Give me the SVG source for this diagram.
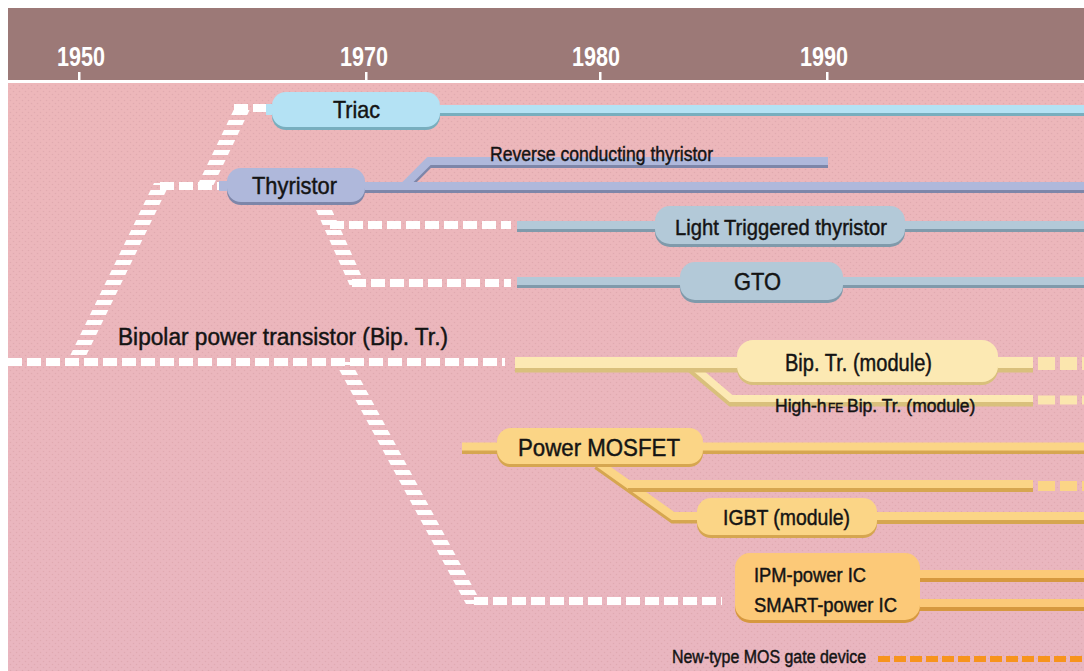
<svg xmlns="http://www.w3.org/2000/svg" width="1084" height="671" viewBox="0 0 1084 671">
<defs>
<pattern id="dots" width="6" height="6" patternUnits="userSpaceOnUse"><circle cx="1.5" cy="1.5" r="0.8" fill="#d79fa6" opacity="0.55"/><circle cx="4.5" cy="4.5" r="0.8" fill="#d79fa6" opacity="0.55"/></pattern>
<pattern id="bars" width="20" height="10" patternUnits="userSpaceOnUse"><rect x="0" y="0" width="20" height="5" fill="#ffffff"/></pattern>
<linearGradient id="bg" x1="0" y1="0" x2="0" y2="1"><stop offset="0" stop-color="#edb7ba"/><stop offset="1" stop-color="#e9b6c0"/></linearGradient>
</defs>
<style>
.lbl{font-family:"Liberation Sans",Arial,Helvetica,sans-serif;fill:#141414;stroke:#141414;stroke-width:0.45px}
.yr{font-family:"Liberation Sans",Arial,sans-serif;font-weight:bold;fill:#ffffff;font-size:28px}
.wd{fill:none;stroke:#ffffff;stroke-width:8;stroke-dasharray:14 5}
.bar{fill:url(#bars)}
.ln{fill:none;stroke-linejoin:miter}
.triL{stroke:#b4e2f4}.triD{stroke:#78aebe}
.thyL{stroke:#afb8db}.thyD{stroke:#7d86a9}
.ltL{stroke:#b3c9d8}.ltD{stroke:#809aab}
.bipL{stroke:#fce9b3}.bipD{stroke:#d9c07c}
.mosL{stroke:#fbd586}.mosD{stroke:#d6a650}
.ipmL{stroke:#fcc978}.ipmD{stroke:#d6983f}
</style>
<rect x="0" y="0" width="1084" height="671" fill="#ffffff"/>
<g id="background">
<rect x="8" y="8" width="1076" height="72" fill="#9c7977"/>
<rect x="8" y="83" width="1076" height="588" fill="url(#bg)"/>
<rect x="8" y="83" width="1076" height="588" fill="url(#dots)"/>
<rect x="8" y="80" width="1076" height="3" fill="#ffffff"/>
</g>
<g id="axis">
<rect x="78" y="72" width="2.5" height="9" fill="#fff"/>
<rect x="365" y="72" width="2.5" height="9" fill="#fff"/>
<rect x="599" y="72" width="2.5" height="9" fill="#fff"/>
<rect x="826" y="72" width="2.5" height="9" fill="#fff"/>
<text class="yr" x="57" y="66" textLength="48" lengthAdjust="spacingAndGlyphs">1950</text>
<text class="yr" x="340" y="66" textLength="48" lengthAdjust="spacingAndGlyphs">1970</text>
<text class="yr" x="572" y="66" textLength="48" lengthAdjust="spacingAndGlyphs">1980</text>
<text class="yr" x="800" y="66" textLength="48" lengthAdjust="spacingAndGlyphs">1990</text>
</g>
<g id="connectors">
<path class="wd" d="M8,362 H505"/>
<path class="wd" d="M160,186 H219" stroke-width="7"/>
<path class="wd" d="M234,108 H267" stroke-width="6"/>
<path class="wd" d="M330,225 H511" stroke-width="7"/>
<path class="wd" d="M352,283 H511" stroke-width="7"/>
<path class="wd" d="M474,601 H722" stroke-width="7"/>
<polygon class="bar" points="154,183 170,183 84,360 68,360"/>
<polygon class="bar" points="236,105 252,105 213,186 197,186"/>
<polygon class="bar" points="316,210 332,210 366,286 350,286"/>
<polygon class="bar" points="335,362 351,362 482,604 466,604"/>
<path class="ln triD" stroke-width="9" d="M436,111.5 H1084"/>
<path class="ln triL" stroke-width="8" d="M436,109 H1084"/>
<path class="ln thyD" stroke-width="9" d="M404,188.5 L429,163.5 H828"/>
<path class="ln thyL" stroke-width="8" d="M404,186 L429,161 H828"/>
<path class="ln thyD" stroke-width="9" d="M360,188.5 H1084"/>
<path class="ln thyL" stroke-width="8" d="M360,186 H1084"/>
<path class="ln ltD" stroke-width="9" d="M517,227.5 H1084"/>
<path class="ln ltL" stroke-width="8" d="M517,225 H1084"/>
<path class="ln ltD" stroke-width="9" d="M517,283.5 H1084"/>
<path class="ln ltL" stroke-width="8" d="M517,281 H1084"/>
<path class="ln bipD" stroke-width="9" d="M688,366 L731,402 H1033"/>
<path class="ln bipL" stroke-width="7" d="M688,362 L731,398.5 H1033"/>
<path class="ln bipD" stroke-width="12" d="M515,366.5 H1033"/>
<path class="ln bipL" stroke-width="11" d="M515,362.5 H1033"/>
<path fill="none" stroke="#fbe6ae" stroke-width="13" stroke-dasharray="17 5" d="M1038,363.5 H1084"/>
<path fill="none" stroke="#fbe6ae" stroke-width="9" stroke-dasharray="17 5" d="M1038,400 H1084"/>
<path class="ln mosD" stroke-width="9" d="M597,465 L673,519 H700"/>
<path class="ln mosL" stroke-width="8" d="M597,462 L673,516 H700"/>
<path class="ln mosD" stroke-width="9" d="M628,487.5 H1033"/>
<path class="ln mosL" stroke-width="8" d="M628,484 H1033"/>
<path fill="none" stroke="#fbd586" stroke-width="10" stroke-dasharray="17 5" d="M1038,486 H1084"/>
<path class="ln mosD" stroke-width="9" d="M462,449.5 H1084"/>
<path class="ln mosL" stroke-width="8" d="M462,446.5 H1084"/>
<path class="ln mosD" stroke-width="9" d="M873,519.5 H1084"/>
<path class="ln mosL" stroke-width="8" d="M873,516 H1084"/>
<path class="ln ipmD" stroke-width="9" d="M915,577.5 H1084"/>
<path class="ln ipmL" stroke-width="8" d="M915,574 H1084"/>
<path class="ln ipmD" stroke-width="9" d="M915,606.5 H1084"/>
<path class="ln ipmL" stroke-width="8" d="M915,603 H1084"/>
<path fill="none" stroke="#f7941d" stroke-width="6" stroke-dasharray="12 4" d="M878,659 H1084"/>
</g>
<g id="triac">
<rect x="266" y="104" width="10" height="11" fill="#b4e2f4"/>
<rect x="272" y="95" width="168" height="35" rx="14" fill="#78aebe"/>
<rect x="272" y="92" width="168" height="35" rx="14" fill="#b4e2f4"/>
<text class="lbl" x="333" y="118" font-size="24" textLength="47" lengthAdjust="spacingAndGlyphs">Triac</text>
</g>
<g id="thyristor">
<rect x="219" y="181" width="12" height="10" fill="#afb8db"/>
<rect x="227" y="171" width="138" height="34" rx="14" fill="#7d86a9"/>
<rect x="227" y="168" width="138" height="34" rx="14" fill="#afb8db"/>
<text class="lbl" x="252" y="194" font-size="24" textLength="85" lengthAdjust="spacingAndGlyphs">Thyristor</text>
</g>
<g id="reverse-conducting">
<text class="lbl" x="490" y="161" font-size="21" textLength="223" lengthAdjust="spacingAndGlyphs">Reverse conducting thyristor</text>
</g>
<g id="light-triggered">
<rect x="655" y="209" width="250" height="38" rx="15" fill="#809aab"/>
<rect x="655" y="206" width="250" height="38" rx="15" fill="#b3c9d8"/>
<text class="lbl" x="675" y="235" font-size="22" textLength="212" lengthAdjust="spacingAndGlyphs">Light Triggered thyristor</text>
</g>
<g id="gto">
<rect x="680" y="265" width="163" height="38" rx="15" fill="#809aab"/>
<rect x="680" y="262" width="163" height="38" rx="15" fill="#b3c9d8"/>
<text class="lbl" x="734" y="290" font-size="24" textLength="47" lengthAdjust="spacingAndGlyphs">GTO</text>
</g>
<g id="bipolar">
<text class="lbl" x="118" y="345" font-size="23" textLength="330" lengthAdjust="spacingAndGlyphs">Bipolar power transistor (Bip. Tr.)</text>
</g>
<g id="bip-module">
<rect x="737" y="343" width="261" height="42" rx="16" fill="#d9c07c"/>
<rect x="737" y="340" width="261" height="42" rx="16" fill="#fce9b3"/>
<text class="lbl" x="785" y="371" font-size="23" textLength="147" lengthAdjust="spacingAndGlyphs">Bip. Tr. (module)</text>
</g>
<g id="high-hfe">
<text class="lbl" x="775" y="412" font-size="17.5">High-h</text>
<text class="lbl" x="828" y="412" font-size="12">FE</text>
<text class="lbl" x="847" y="412" font-size="17.5">Bip. Tr. (module)</text>
</g>
<g id="power-mosfet">
<rect x="497" y="431" width="206" height="36" rx="14" fill="#d6a650"/>
<rect x="497" y="428" width="206" height="36" rx="14" fill="#fbd586"/>
<text class="lbl" x="518" y="456" font-size="24" textLength="162" lengthAdjust="spacingAndGlyphs">Power MOSFET</text>
</g>
<g id="igbt">
<rect x="697" y="501" width="180" height="37" rx="14" fill="#d6a650"/>
<rect x="697" y="498" width="180" height="37" rx="14" fill="#fbd586"/>
<text class="lbl" x="723" y="525" font-size="22" textLength="127" lengthAdjust="spacingAndGlyphs">IGBT (module)</text>
</g>
<g id="ipm">
<rect x="735" y="556" width="185" height="67" rx="15" fill="#d6983f"/>
<rect x="735" y="553" width="185" height="67" rx="15" fill="#fcc978"/>
<text class="lbl" x="754" y="582" font-size="20" textLength="112" lengthAdjust="spacingAndGlyphs">IPM-power IC</text>
<text class="lbl" x="754" y="612" font-size="20" textLength="143" lengthAdjust="spacingAndGlyphs">SMART-power IC</text>
</g>
<g id="new-type">
<text class="lbl" x="672" y="663" font-size="18" textLength="194" lengthAdjust="spacingAndGlyphs">New-type MOS gate device</text>
</g>
</svg>
